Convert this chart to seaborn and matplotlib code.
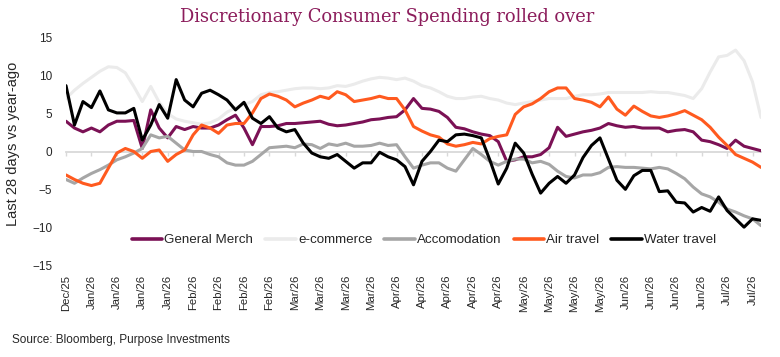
import numpy as np
import pandas as pd
import matplotlib
matplotlib.use("Agg")
import matplotlib.pyplot as plt
import seaborn as sns

# series, legend order = draw order
series_names = ["General Merch", "e-commerce", "Accomodation", "Air travel", "Water travel"]
series_colors = ["#7B1155", "#EBEBEB", "#A6A6A6", "#FF5A1F", "#000000"]

tick_labels = ["Dec/25",
               "Jan/26", "Jan/26", "Jan/26", "Jan/26",
               "Feb/26", "Feb/26", "Feb/26", "Feb/26",
               "Mar/26", "Mar/26", "Mar/26", "Mar/26",
               "Apr/26", "Apr/26", "Apr/26", "Apr/26", "Apr/26",
               "May/26", "May/26", "May/26", "May/26",
               "Jun/26", "Jun/26", "Jun/26", "Jun/26",
               "Jul/26", "Jul/26"]

# values, 3 points per tick interval
general_merch = [4.0, 3.1, 2.6, 3.1, 2.6, 3.5, 4.0, 4.0, 4.1, 0.4, 5.5, 3.1, 1.8, 3.3, 2.9, 3.3,
                 3.1, 3.1, 3.5, 4.2, 4.8, 3.1, 0.9, 3.3, 3.3, 3.4, 3.7, 3.7, 3.8, 3.9, 4.0, 3.6,
                 3.4, 3.5, 3.7, 3.9, 4.2, 4.3, 4.5, 4.6, 5.5, 7.0, 5.7, 5.6, 5.3, 4.5, 3.2, 3.0,
                 2.6, 2.3, 2.1, 1.3, -1.3, -1.1, -0.7, -0.7, -0.4, 0.5, 3.2, 2.0, 2.3, 2.6, 2.8,
                 3.1, 3.7, 3.4, 3.2, 3.3, 3.1, 3.1, 3.1, 2.6, 2.8, 2.9, 2.6, 1.5, 1.3, 0.9, 0.4,
                 1.5, 0.7, 0.4, 0.1]

e_commerce = [7.0, 8.1, 9.0, 9.8, 10.6, 11.2, 11.1, 10.4, 8.6, 6.6, 8.6, 6.5, 5.0, 4.3, 4.0, 3.8,
              3.6, 3.8, 4.3, 5.2, 5.8, 6.2, 6.6, 7.5, 7.8, 7.9, 8.1, 8.3, 8.4, 8.4, 8.3, 8.4,
              8.7, 8.6, 8.9, 9.3, 9.6, 9.8, 9.7, 9.5, 9.7, 9.3, 8.7, 8.4, 7.9, 7.3, 7.0, 7.0,
              7.2, 7.3, 7.0, 6.8, 6.4, 6.2, 6.4, 6.6, 6.8, 7.0, 7.0, 7.0, 7.3, 7.5, 7.5,
              7.6, 7.8, 7.8, 7.8, 7.8, 7.8, 7.9, 7.8, 7.8, 7.6, 7.4, 7.0, 8.3, 10.5, 12.5, 12.7,
              13.4, 12.0, 9.2, 4.5]

accomodation = [-3.7, -4.2, -3.5, -2.9, -2.4, -1.8, -1.1, -0.7, -0.2, 0.4, 2.2, 1.8, 2.0, 1.1, 0.2, 0.0,
                0.0, -0.4, -0.7, -1.5, -1.8, -1.8, -1.3, -0.4, 0.5, 0.6, 0.7, 0.5, 1.0, 0.9, 0.4, 1.0,
                0.8, 1.1, 0.7, 0.7, 0.8, 1.1, 0.8, 0.9, -0.7, -2.2, -1.8, -1.5, -1.5, -2.2, -2.6, -1.1,
                0.4, -0.4, -1.3, -1.8, -1.3, -1.0, -1.0, -1.5, -1.3, -1.7, -2.6, -3.3, -3.5, -3.1, -3.1,
                -2.8, -2.1, -2.0, -2.1, -2.1, -2.2, -2.3, -2.1, -2.3, -2.9, -3.6, -4.7, -5.6, -6.0, -6.7, -7.6,
                -8.0, -8.5, -8.9, -9.8]

air_travel = [-3.1, -3.7, -4.2, -4.5, -4.2, -2.2, -0.2, 0.4, 0.0, -0.9, 0.0, 0.2, -1.3, -0.4, 0.2, 2.2,
              3.5, 3.1, 2.4, 3.5, 3.7, 3.7, 5.1, 7.0, 7.6, 7.3, 6.8, 5.9, 6.4, 6.8, 7.3, 7.0,
              7.9, 7.5, 6.6, 6.8, 7.0, 7.3, 7.0, 7.0, 5.5, 3.3, 2.7, 2.2, 1.9, 1.0, 0.7, 0.9,
              1.2, 1.0, 1.7, 2.0, 2.2, 4.9, 5.9, 6.3, 7.0, 7.9, 8.4, 8.4, 7.0, 6.8, 6.5,
              5.9, 7.2, 5.6, 4.8, 6.0, 5.3, 4.7, 4.5, 4.7, 5.0, 5.4, 4.8, 4.2, 3.2, 1.9, 0.8,
              -0.4, -0.9, -1.4, -2.1]

water_travel = [8.7, 3.5, 6.6, 5.8, 8.0, 5.5, 5.1, 5.1, 5.7, 1.5, 3.5, 6.2, 4.4, 9.5, 6.8, 5.9,
                7.7, 8.1, 7.5, 6.8, 5.5, 6.5, 4.4, 3.7, 4.6, 3.1, 2.6, 2.9, 1.1, -0.2, -0.7, -0.9,
                -0.4, -1.3, -2.2, -1.5, -1.5, -0.1, -0.7, -1.1, -2.0, -4.4, -1.3, 0.0, 1.5, 1.3, 2.2, 2.3,
                2.1, 1.8, -1.1, -4.3, -2.2, 1.1, -0.2, -3.0, -5.5, -4.2, -3.3, -4.2, -3.1, -0.8, 0.8,
                1.8, -1.0, -3.8, -5.0, -3.2, -2.5, -2.5, -5.3, -5.2, -6.7, -6.8, -8.0, -7.4, -7.9, -6.0,
                -7.8, -8.9, -10.0, -8.9, -9.1]

n = len(general_merch)
df = pd.DataFrame({
    "idx": np.arange(n),
    "General Merch": general_merch,
    "e-commerce": e_commerce,
    "Accomodation": accomodation,
    "Air travel": air_travel,
    "Water travel": water_travel,
})
long_df = df.melt(id_vars="idx", var_name="series", value_name="value")

sns.set_style("white")
plt.rcParams["font.family"] = ["Liberation Sans", "DejaVu Sans"]

fig = plt.figure(figsize=(7.8, 3.57), dpi=100)
ax = fig.add_axes([66 / 780, 92 / 357, 695 / 780, 227 / 357])

sns.lineplot(data=long_df, x="idx", y="value", hue="series", hue_order=series_names,
             palette=series_colors, linewidth=2.2, ax=ax)

ax.set_xlim(0, n - 1)
ax.set_ylim(-15, 15)
ax.set_yticks([-15, -10, -5, 0, 5, 10, 15])
ax.set_xticks(np.arange(0, n, 3))
ax.set_xticklabels(tick_labels, rotation=90)
ax.tick_params(axis="x", length=0, pad=7, labelsize=8.2)
ax.tick_params(axis="y", length=0, pad=10, labelsize=8.5)
for s in ax.spines.values():
    s.set_visible(False)

ax.set_xlabel("")
ax.set_ylabel("Last 28 days vs year-ago", fontsize=10.5)
ax.yaxis.set_label_coords(-0.066, 0.535)

# zero line with tick marks (horizontal axis crosses at 0)
zero_ax = ax.secondary_xaxis(0.5)
zero_ax.set_alignment("bottom")
zero_ax.set_xticks(np.arange(0, n, 3))
zero_ax.set_xticklabels([])
zero_ax.tick_params(axis="x", direction="out", length=3, width=1, color="#D9D9D9",
                    labelbottom=False, labeltop=False)
for side in ["top", "bottom"]:
    zero_ax.spines[side].set_color("#D9D9D9")
    zero_ax.spines[side].set_linewidth(1.3)
zero_ax.spines["top"].set_visible(False)
zero_ax.set_zorder(0)

handles, labels = ax.get_legend_handles_labels()
leg = ax.legend(handles, labels, loc="center", bbox_to_anchor=(0.515, 0.11), ncol=5,
                frameon=False, fontsize=9.6, handlelength=2.3, handletextpad=0.15,
                columnspacing=0.9)
for line in leg.get_lines():
    line.set_linewidth(2.6)

fig.text(387 / 780, 1 - 17 / 357, "Discretionary Consumer Spending rolled over",
         ha="center", va="center", color="#8C1D5C", fontsize=12.9, family="DejaVu Serif")
fig.text(12 / 780, 1 - 340 / 357, "Source: Bloomberg, Purpose Investments",
         ha="left", va="center", fontsize=8.5)

fig.savefig("out.png", dpi=100)
